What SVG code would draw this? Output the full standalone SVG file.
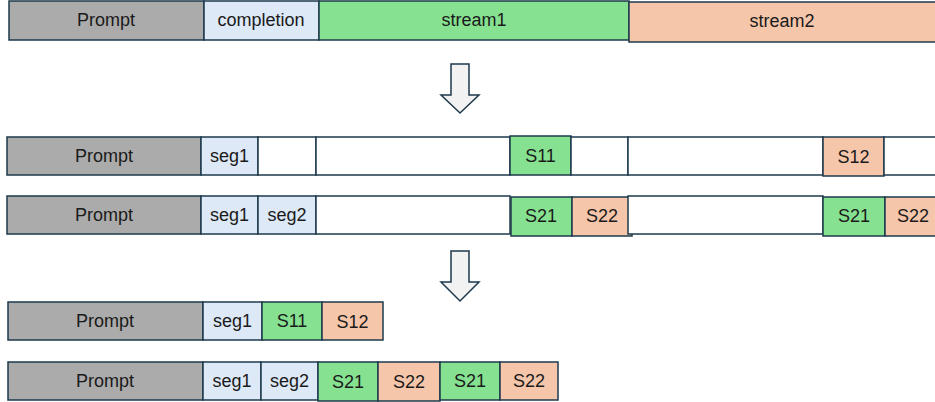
<svg xmlns="http://www.w3.org/2000/svg" width="935" height="402" viewBox="0 0 935 402">
<style>
rect{stroke:#1e3a4c;stroke-width:1.5}
.p{fill:#ababab}.c{fill:#dde9f7}.g{fill:#86e291}.o{fill:#f6c6aa}.w{fill:#ffffff}
text{font-family:"Liberation Sans",Arial,sans-serif;font-size:18px;fill:#1a1a1a;text-anchor:middle;dominant-baseline:central}
.arrow{fill:#f2f2f2;stroke:#1e3a4c;stroke-width:1.5}
</style>
<rect width="935" height="402" fill="#ffffff" style="stroke:none"/>
<g id="row1">
<g id="r1-prompt"><rect class="p" x="9" y="1" width="195" height="39"/><text x="106" y="20">Prompt</text></g>
<g id="r1-completion"><rect class="c" x="204" y="1" width="115" height="39"/><text x="261" y="20">completion</text></g>
<g id="r1-stream1"><rect class="g" x="319" y="1" width="310" height="39"/><text x="474" y="20">stream1</text></g>
<g id="r1-stream2"><rect class="o" x="629" y="2" width="310" height="40"/><text x="782" y="21">stream2</text></g>
</g>
<g id="connectors">
<path class="arrow" d="M451 64 H469 V95 H479 L460 113 L441 95 H451 Z"/>
<path class="arrow" d="M451 251 H469 V282 H479 L460 301 L441 282 H451 Z"/>
</g>
<g id="row2">
<g id="r2-prompt"><rect class="p" x="7" y="137" width="194" height="38"/><text x="104" y="156">Prompt</text></g>
<g id="r2-seg1"><rect class="c" x="201" y="137" width="57" height="38"/><text x="229.5" y="156">seg1</text></g>
<g id="r2-e1"><rect class="w" x="258" y="137" width="58" height="38"/></g>
<g id="r2-e2"><rect class="w" x="316" y="137" width="194" height="38"/></g>
<g id="r2-s11"><rect class="g" x="510" y="136" width="61" height="39"/><text x="540.5" y="156">S11</text></g>
<g id="r2-e3"><rect class="w" x="571" y="137" width="57" height="38"/></g>
<g id="r2-e4"><rect class="w" x="628" y="137" width="195" height="38"/></g>
<g id="r2-s12"><rect class="o" x="823" y="137" width="61" height="39"/><text x="853.5" y="157">S12</text></g>
<g id="r2-e5"><rect class="w" x="884" y="137" width="55" height="38"/></g>
</g>
<g id="row3">
<g id="r3-prompt"><rect class="p" x="7" y="196" width="194" height="38"/><text x="104" y="215">Prompt</text></g>
<g id="r3-seg1"><rect class="c" x="201" y="196" width="57" height="38"/><text x="229.5" y="215">seg1</text></g>
<g id="r3-seg2"><rect class="c" x="258" y="196" width="58" height="38"/><text x="287" y="215">seg2</text></g>
<g id="r3-e1"><rect class="w" x="316" y="196" width="194" height="38"/></g>
<g id="r3-s21"><rect class="g" x="511" y="197" width="61" height="39"/><text x="541" y="216">S21</text></g>
<g id="r3-s22"><rect class="o" x="572" y="197" width="60" height="39"/><text x="602" y="216">S22</text></g>
<g id="r3-e2"><rect class="w" x="628" y="196" width="195" height="38"/></g>
<g id="r3-s21b"><rect class="g" x="823" y="197" width="62" height="39"/><text x="854" y="216">S21</text></g>
<g id="r3-s22b"><rect class="o" x="885" y="197" width="55" height="39"/><text x="913" y="216">S22</text></g>
</g>
<g id="row4">
<g id="r4-prompt"><rect class="p" x="8" y="302" width="195" height="38"/><text x="105" y="321">Prompt</text></g>
<g id="r4-seg1"><rect class="c" x="203" y="302" width="59" height="38"/><text x="232.5" y="321">seg1</text></g>
<g id="r4-s11"><rect class="g" x="262" y="302" width="60" height="38"/><text x="292" y="321">S11</text></g>
<g id="r4-s12"><rect class="o" x="322" y="302" width="61" height="38"/><text x="352.5" y="322">S12</text></g>
</g>
<g id="row5">
<g id="r5-prompt"><rect class="p" x="8" y="362" width="195" height="38"/><text x="105" y="381">Prompt</text></g>
<g id="r5-seg1"><rect class="c" x="203" y="362" width="58" height="38"/><text x="232" y="381">seg1</text></g>
<g id="r5-seg2"><rect class="c" x="261" y="362" width="57" height="38"/><text x="289.5" y="381">seg2</text></g>
<g id="r5-s21"><rect class="g" x="318" y="362" width="60" height="39"/><text x="348" y="382">S21</text></g>
<g id="r5-s22"><rect class="o" x="378" y="362" width="62" height="39"/><text x="409" y="382">S22</text></g>
<g id="r5-s21b"><rect class="g" x="440" y="362" width="60" height="38"/><text x="470" y="381">S21</text></g>
<g id="r5-s22b"><rect class="o" x="500" y="362" width="58" height="38"/><text x="529" y="381">S22</text></g>
</g>
</svg>
